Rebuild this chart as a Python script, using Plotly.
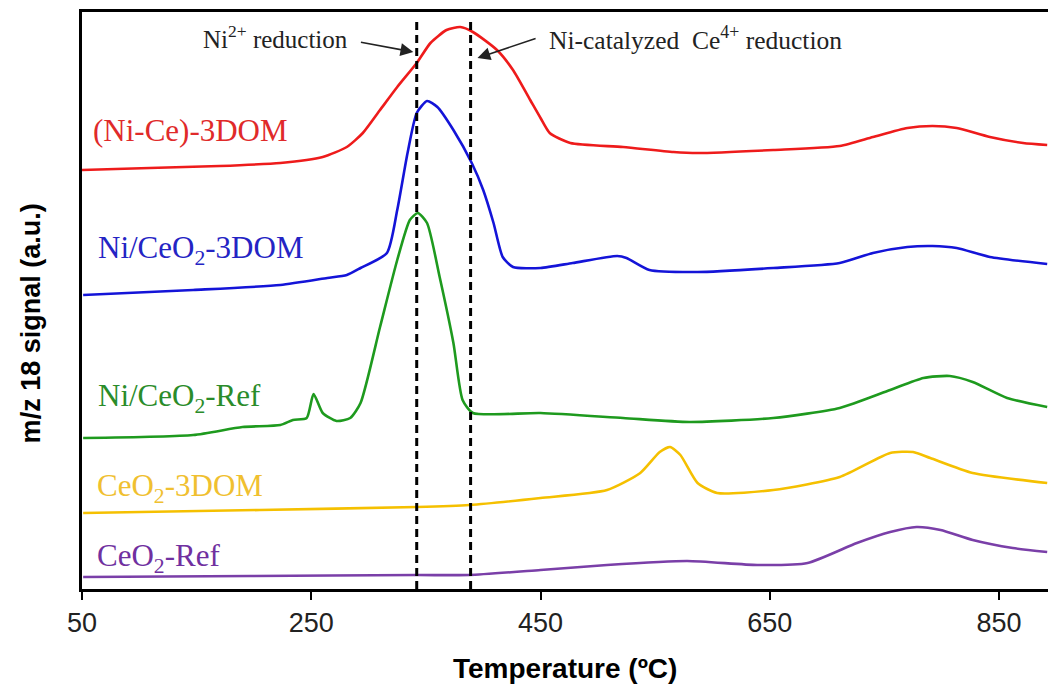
import plotly.graph_objects as go

# ---- data (temperature in °C, m/z 18 signal in a.u.) ----
t_nice = [50, 109, 170, 223, 260, 281, 295, 310, 325, 342, 354, 368, 380, 391, 412, 426, 441, 450, 458, 476,
          522, 566, 587, 653, 711, 740, 770, 792, 813, 842, 871, 892]
s_nice = [4.19, 4.21, 4.23, 4.26, 4.32, 4.42, 4.56, 4.79, 5.02, 5.26, 5.46, 5.59, 5.62, 5.57, 5.39, 5.19, 4.89,
          4.71, 4.56, 4.46, 4.42, 4.37, 4.36, 4.39, 4.43, 4.52, 4.61, 4.63, 4.61, 4.52, 4.46, 4.44]

t_ni3dom = [51, 147, 223, 264, 281, 293, 316, 325, 334, 342, 351, 360, 374, 390, 400, 409, 417, 426, 450,
            478, 517, 525, 545, 587, 653, 711, 740, 770, 792, 813, 842, 892]
s_ni3dom = [2.94, 2.99, 3.04, 3.11, 3.14, 3.21, 3.36, 3.79, 4.36, 4.76, 4.88, 4.82, 4.59, 4.26, 3.99, 3.66,
            3.32, 3.22, 3.21, 3.26, 3.33, 3.31, 3.19, 3.17, 3.21, 3.26, 3.36, 3.42, 3.43, 3.41, 3.32, 3.25]

t_niref = [51, 147, 190, 223, 234, 246, 252, 260, 272, 284, 293, 310, 325, 336, 343, 351, 362, 374, 382,
           391, 450, 522, 580, 653, 711, 755, 784, 807, 827, 857, 892]
s_niref = [1.51, 1.54, 1.62, 1.64, 1.69, 1.71, 1.95, 1.76, 1.68, 1.71, 1.86, 2.62, 3.29, 3.69, 3.76, 3.66,
           3.12, 2.46, 1.89, 1.76, 1.76, 1.71, 1.67, 1.71, 1.81, 1.99, 2.11, 2.13, 2.07, 1.91, 1.82]

t_ce3dom = [51, 205, 342, 388, 450, 508, 537, 554, 563, 572, 587, 604, 653, 711, 755, 775, 790, 827, 892]
s_ce3dom = [0.76, 0.79, 0.82, 0.84, 0.91, 0.99, 1.16, 1.37, 1.42, 1.34, 1.06, 0.96, 0.99, 1.12, 1.36,
            1.37, 1.31, 1.16, 1.06]

t_ceref = [51, 197, 342, 388, 450, 508, 578, 639, 683, 726, 755, 778, 799, 827, 862, 892]
s_ceref = [0.12, 0.13, 0.14, 0.14, 0.19, 0.24, 0.28, 0.24, 0.26, 0.46, 0.57, 0.62, 0.59, 0.49, 0.41, 0.37]

series_names = ["(Ni-Ce)-3DOM", "Ni/CeO<sub>2</sub>-3DOM", "Ni/CeO<sub>2</sub>-Ref",
                "CeO<sub>2</sub>-3DOM", "CeO<sub>2</sub>-Ref"]
line_colors = ["#EE1B1B", "#1414D8", "#1E9A1E", "#F5C000", "#7A3FA8"]
text_colors = ["#E02A2A", "#2424C4", "#2A8C2A", "#F0C030", "#7030A0"]
label_pos_t = [58, 62, 62, 61, 61]
label_pos_s = [4.59, 3.39, 1.91, 1.01, 0.31]

dash_temps = [342, 389]
x_ticks = [50, 250, 450, 650, 850]

xs = [t_nice, t_ni3dom, t_niref, t_ce3dom, t_ceref]
ys = [s_nice, s_ni3dom, s_niref, s_ce3dom, s_ceref]

fig = go.Figure()
for x, y, c, n in zip(xs, ys, line_colors, series_names):
    fig.add_trace(go.Scatter(x=x, y=y, mode="lines", name=n,
                             line=dict(color=c, width=2.6, shape="spline", smoothing=0.6),
                             showlegend=False))

for td in dash_temps:
    fig.add_shape(type="line", x0=td, x1=td, y0=0, y1=5.71, xref="x", yref="y",
                  line=dict(color="black", width=3, dash="8px,5px"))

serif = "Times New Roman, Liberation Serif, serif"
annotations = []
for n, c, tx, sy in zip(series_names, text_colors, label_pos_t, label_pos_s):
    annotations.append(dict(x=tx, y=sy, xref="x", yref="y", text=n, showarrow=False,
                            xanchor="left", yanchor="middle",
                            font=dict(family=serif, size=31, color=c)))

# peak annotations
annotations.append(dict(x=284, y=5.52, xref="x", yref="y", text="Ni<sup>2+</sup> reduction",
                        showarrow=False, xanchor="right", yanchor="middle",
                        font=dict(family=serif, size=25, color="#222")))
annotations.append(dict(x=456, y=5.51, xref="x", yref="y",
                        text="Ni-catalyzed  Ce<sup>4+</sup> reduction",
                        showarrow=False, xanchor="left", yanchor="middle",
                        font=dict(family=serif, size=25.5, color="#222")))
annotations.append(dict(x=339, y=5.37, ax=292, ay=5.47, xref="x", yref="y", axref="x", ayref="y",
                        text="", showarrow=True, arrowhead=2, arrowsize=1.6, arrowwidth=1.6,
                        arrowcolor="#222"))
annotations.append(dict(x=395, y=5.31, ax=447, ay=5.51, xref="x", yref="y", axref="x", ayref="y",
                        text="", showarrow=True, arrowhead=2, arrowsize=1.6, arrowwidth=1.6,
                        arrowcolor="#222"))

# axis titles
annotations.append(dict(x=0.5, y=-0.137, xref="paper", yref="paper", text="<b>Temperature (ºC)</b>",
                        showarrow=False, xanchor="center", yanchor="middle",
                        font=dict(family="Arial, Liberation Sans", size=28, color="black")))
annotations.append(dict(x=-0.053, y=0.46, xref="paper", yref="paper",
                        text="<b>m/z 18 signal (a.u.)</b>", textangle=-90,
                        showarrow=False, xanchor="center", yanchor="middle",
                        font=dict(family="Arial, Liberation Sans", size=27, color="black")))

fig.update_layout(
    width=1048, height=686,
    margin=dict(l=82, r=0, t=12, b=97),
    paper_bgcolor="white", plot_bgcolor="white",
    annotations=annotations,
    xaxis=dict(range=[50, 892.7], tickvals=x_ticks, ticks="outside", ticklen=8, tickwidth=1.5,
               tickcolor="black", showline=True, linewidth=3, linecolor="black", mirror=True,
               showgrid=False, zeroline=False,
               tickfont=dict(family="Arial, Liberation Sans", size=27, color="#222")),
    yaxis=dict(range=[0, 5.77], showticklabels=False, ticks="", showline=True, linewidth=3,
               linecolor="black", mirror=False, showgrid=False, zeroline=False),
)

fig.write_html("out.html")
